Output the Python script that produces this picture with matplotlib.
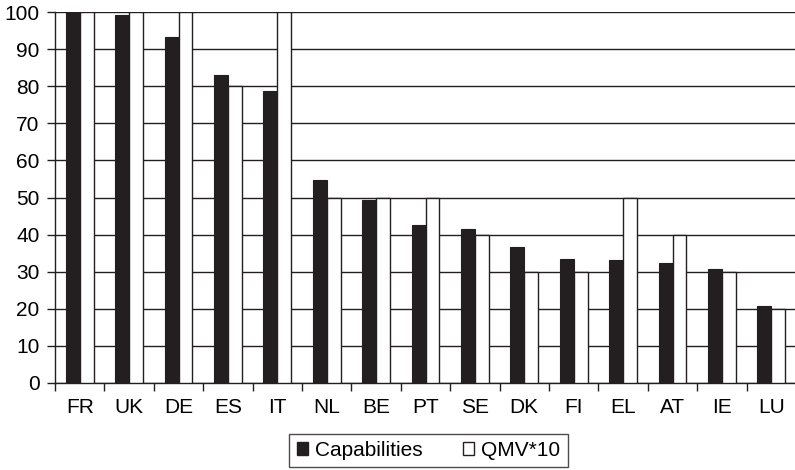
import matplotlib
matplotlib.use("Agg")
import matplotlib.pyplot as plt
import numpy as np
from matplotlib.patches import Patch

plt.rcParams['font.family'] = ['Liberation Sans', 'DejaVu Sans']

countries = ["FR", "UK", "DE", "ES", "IT", "NL", "BE", "PT", "SE", "DK", "FI", "EL", "AT", "IE", "LU"]
capabilities = [100, 99.2, 93.3, 83.0, 78.8, 54.6, 49.2, 42.6, 41.4, 36.6, 33.4, 33.0, 32.4, 30.8, 20.8]
qmv10 = [100, 100, 100, 80, 100, 50, 50, 50, 40, 30, 30, 50, 40, 30, 20]

FS = 15
fig = plt.figure(figsize=(7.95, 4.70), dpi=100)
ax = fig.add_axes([55/795, 1-382.7/470, 741/795, 370.4/470])

x = np.arange(len(countries))
w = 0.28
ax.bar(x - w/2, capabilities, width=w, color="#231f20", edgecolor="#231f20", linewidth=0.8, zorder=3, label="Capabilities")
ax.bar(x + w/2, qmv10, width=w, color="white", edgecolor="#231f20", linewidth=1.0, zorder=3, label="QMV*10")

ax.set_ylim(0, 100)
ax.set_xlim(-0.5, len(countries) - 0.5)
ax.set_yticks(np.arange(0, 101, 10))
ax.yaxis.grid(True, color="#231f20", linewidth=1.0, zorder=0)
ax.set_axisbelow(True)

ax.set_xticks(x)
ax.set_xticklabels(countries)
ax.set_xticks(np.arange(-0.5, len(countries)), minor=True)
ax.tick_params(axis='x', which='major', length=0, pad=11, labelsize=FS)
ax.tick_params(axis='x', which='minor', length=6, width=1, color="#231f20", direction='out')
ax.tick_params(axis='y', length=6, width=1, color="#231f20", labelsize=FS, pad=5)

for s in ["top", "right"]:
    ax.spines[s].set_visible(False)
for s in ["left", "bottom"]:
    ax.spines[s].set_color("#231f20")
    ax.spines[s].set_linewidth(1.0)

handles = [Patch(facecolor="#231f20", edgecolor="#231f20"), Patch(facecolor="white", edgecolor="#231f20")]
leg = fig.legend(handles, ["Capabilities", "QMV*10"], loc="center", bbox_to_anchor=(428.5/795, 1-450.5/470),
                 ncol=2, frameon=True, fancybox=False, fontsize=FS, handlelength=0.55, handleheight=0.55,
                 handletextpad=0.35, columnspacing=1.9, borderpad=0.35, borderaxespad=0, edgecolor="#231f20")
leg.get_frame().set_linewidth(1.0)

fig.savefig("out.png", dpi=100)
